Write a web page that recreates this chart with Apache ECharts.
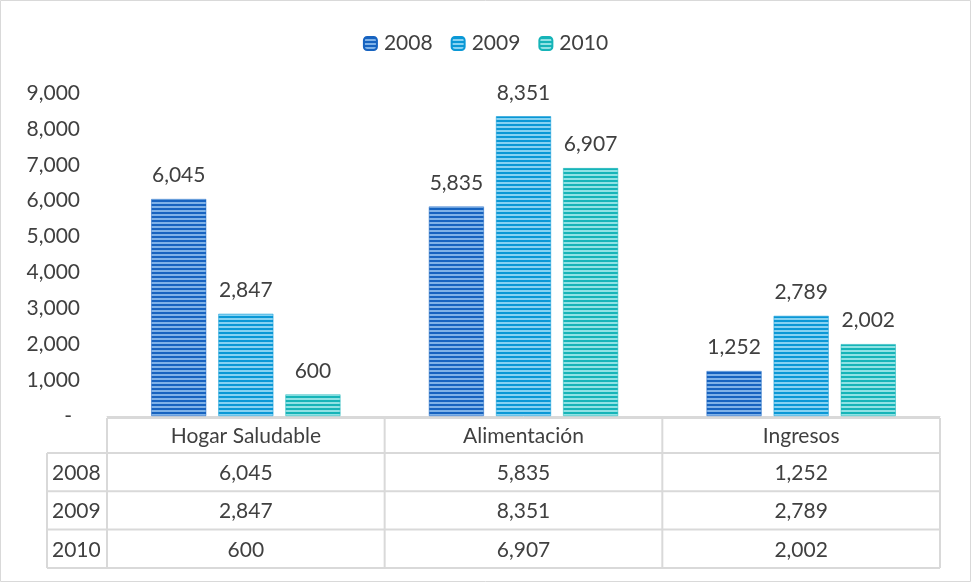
<!DOCTYPE html>
<html>
<head>
<meta charset="utf-8">
<script src="https://cdn.jsdelivr.net/npm/echarts@6/dist/echarts.min.js"></script>
<style>
html,body{margin:0;padding:0;background:#fff;}
#c{width:971px;height:582px;}
</style>
</head>
<body>
<div id="c"></div>
<script>
const categories = ['Hogar Saludable', 'Alimentación', 'Ingresos'];
const years = ['2008', '2009', '2010'];
const v2008 = [6045, 5835, 1252];
const v2009 = [2847, 8351, 2789];
const v2010 = [600, 6907, 2002];
const yMax = 9000;
const yStep = 1000;

const FONT = 'Lato, "Open Sans", sans-serif';
const FS = 21;
const TXT = '#404040';
const BORDER = '#D9D9D9';
const colors = [
  { dark: '#1763C0', light: '#7FB2E8' },
  { dark: '#0A98D6', light: '#86D2F2' },
  { dark: '#16B4B8', light: '#90E2E4' }
];
function pattern(c) {
  const cv = document.createElement('canvas');
  cv.width = 4; cv.height = 4;
  const ctx = cv.getContext('2d');
  ctx.fillStyle = c.light; ctx.fillRect(0, 0, 4, 4);
  ctx.fillStyle = c.dark; ctx.fillRect(0, 0, 4, 2);
  return { image: cv, repeat: 'repeat' };
}
const fmt = v => Number(v).toLocaleString('en-US');

const grid = { left: 107, right: 31, top: 93, bottom: 166 };
const seriesData = [v2008, v2009, v2010];

const chart = echarts.init(document.getElementById('c'), null, { renderer: 'canvas' });
const W = 971, H = 582;

const series = years.map((y, i) => ({
  name: y,
  type: 'bar',
  data: seriesData[i],
  barWidth: 55,
  barGap: '22%',
  itemStyle: { color: pattern(colors[i]), borderColor: colors[i].dark, borderWidth: 0.5 },
  label: {
    show: true, position: 'top', distance: 13,
    color: TXT, fontSize: FS, fontFamily: FONT,
    formatter: p => fmt(p.value)
  }
}));

// Table graphics
const plotW = W - grid.left - grid.right;
const colW = plotW / categories.length;
const tTop = H - grid.bottom + 2;
const headH = 35;
const rowH = 38.3;
const leftX = 47;
const g = [];
const line = (x1, y1, x2, y2) => g.push({ type: 'line', shape: { x1, y1, x2, y2 }, style: { stroke: BORDER, lineWidth: 2 }, silent: true });
const txt = (x, y, s, align) => g.push({ type: 'text', x, y, style: { text: s, fill: TXT, font: FS + 'px ' + FONT, textAlign: align, textVerticalAlign: 'middle' }, silent: true });

const xR = grid.left + plotW;
const tBottom = tTop + headH + rowH * years.length;
line(grid.left, tTop, xR, tTop);
for (let r = 0; r <= years.length; r++) {
  const yy = tTop + headH + rowH * r;
  line(leftX, yy, xR, yy);
}
line(leftX, tTop + headH, leftX, tBottom);
for (let c = 0; c <= categories.length; c++) {
  const xx = grid.left + colW * c;
  line(xx, tTop, xx, tBottom);
}
categories.forEach((cat, c) => {
  const cx = grid.left + colW * (c + 0.5);
  txt(cx, tTop + headH / 2 + 1, cat, 'center');
  seriesData.forEach((arr, r) => {
    txt(cx, tTop + headH + rowH * (r + 0.5) + 1, fmt(arr[c]), 'center');
  });
});
years.forEach((y, r) => {
  txt(leftX + 5, tTop + headH + rowH * (r + 0.5) + 1, y, 'left');
});
// outer border
g.push({ type: 'rect', shape: { x: 0.5, y: 0.5, width: W - 1, height: H - 1 }, style: { fill: 'none', stroke: BORDER, lineWidth: 1 }, silent: true });

chart.setOption({
  backgroundColor: '#fff',
  animation: false,
  textStyle: { fontFamily: FONT },
  legend: {
    top: 28, left: 'center',
    itemWidth: 13, itemHeight: 13, itemGap: 18,
    textStyle: { color: TXT, fontSize: FS, fontFamily: FONT, padding: [0, 0, 0, 2] },
    data: years.map((y, i) => ({ name: y, itemStyle: { color: pattern(colors[i]) } }))
  },
  grid: grid,
  xAxis: {
    type: 'category',
    data: categories,
    axisLine: { show: true, lineStyle: { color: BORDER, width: 1 } },
    axisTick: { show: false },
    axisLabel: { show: false }
  },
  yAxis: {
    type: 'value',
    min: 0, max: yMax, interval: yStep,
    axisLine: { show: false },
    axisTick: { show: false },
    splitLine: { show: false },
    axisLabel: {
      color: TXT, fontSize: FS, fontFamily: FONT, margin: 27,
      formatter: v => v === 0 ? '{d|-}' : fmt(v),
      rich: { d: { fontSize: FS, fontFamily: FONT, color: TXT, padding: [0, 8, 0, 0] } }
    }
  },
  series: series,
  graphic: g
});
</script>
</body>
</html>
